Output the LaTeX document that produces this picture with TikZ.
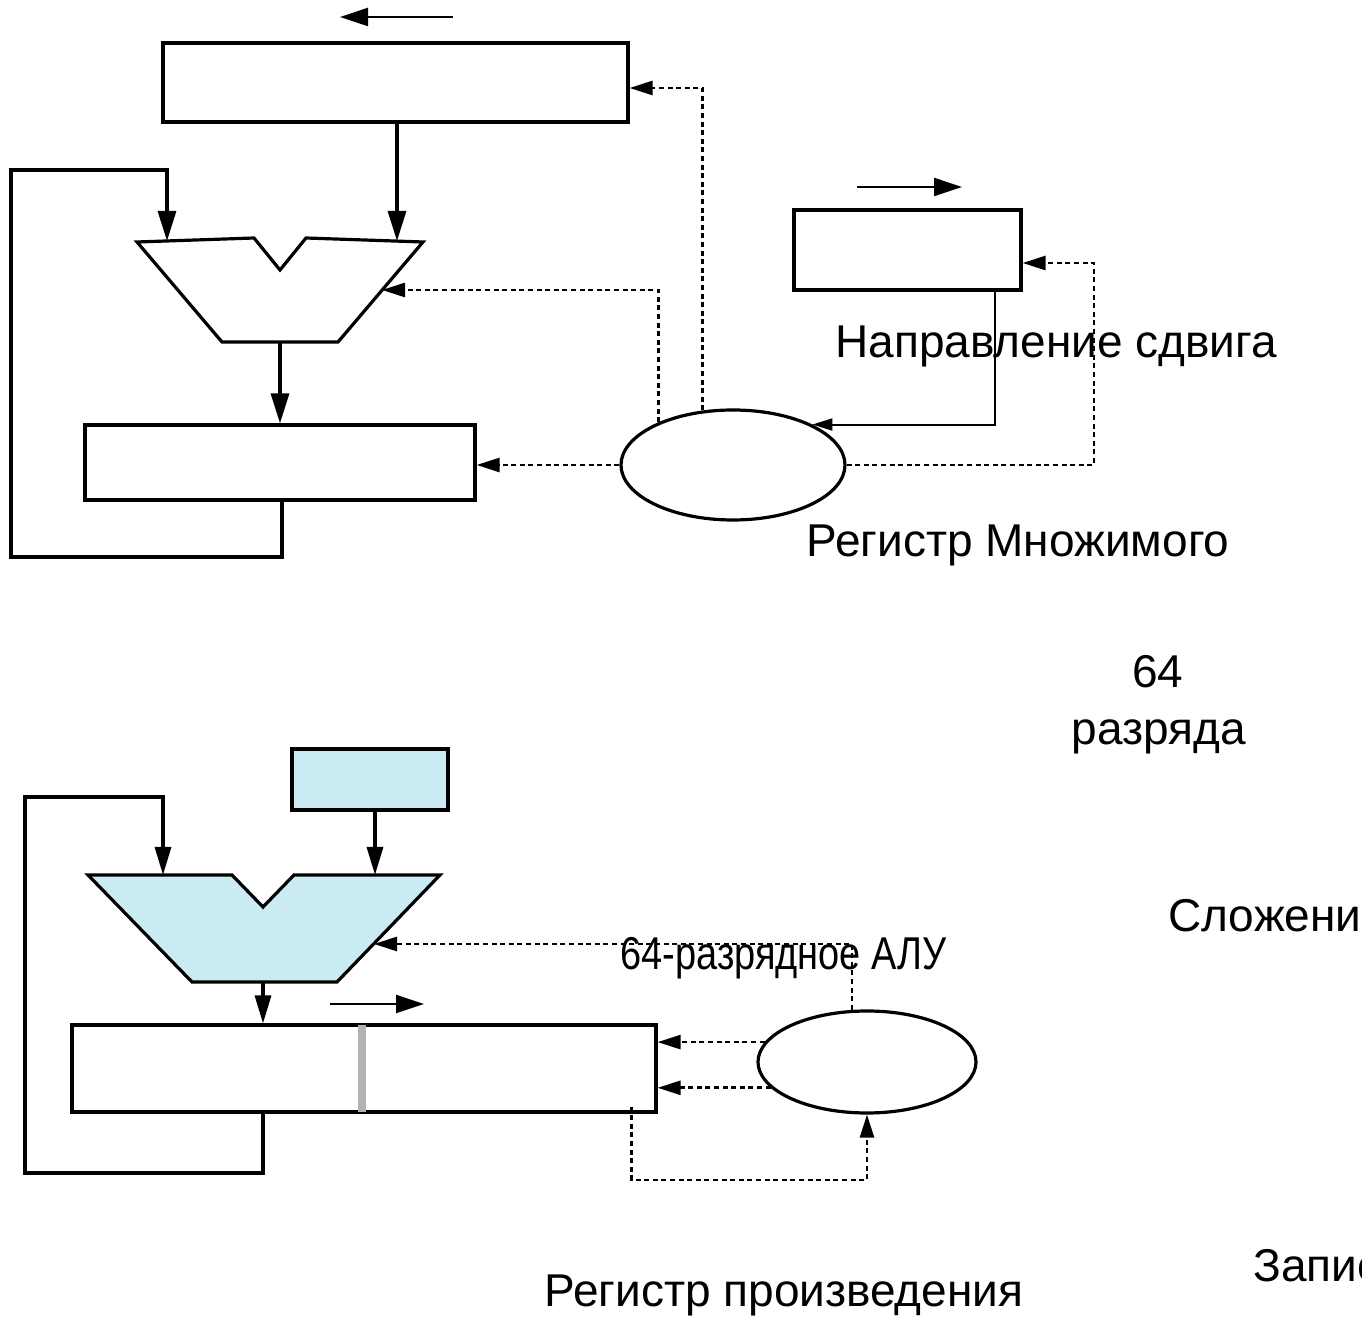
\documentclass[tikz,border=0pt]{standalone}
\usepackage{fontspec}
\setmainfont{Liberation Sans}
\usetikzlibrary{arrows.meta,shapes.geometric}
\definecolor{aluBlue}{RGB}{203,235,242}
\newcommand\lblfont{\fontsize{23pt}{27pt}\selectfont}
\begin{document}
\begin{tikzpicture}[x=0.5pt,y=-0.5pt,
  reg/.style={draw, rectangle, line width=1.6pt, inner sep=0pt},
  ctrl/.style={draw, ellipse, line width=1.6pt, inner sep=0pt},
  alu/.style={draw, line width=1.6pt, line join=miter},
  bus/.style={line width=1.6pt, -{Triangle[length=15pt,width=9pt]}},
  busb/.style={line width=1.6pt, -{Triangle[length=14pt,width=8pt]}},
  shiftarrow/.style={line width=1.2pt, -{Triangle[length=14pt,width=9pt]}},
  ctrlline/.style={line width=1.35pt, dash pattern=on 2.5pt off 1.8pt, -{Triangle[length=11.5pt,width=7pt]}},
  thinline/.style={line width=1pt, -{Triangle[length=10pt,width=6pt]}},
  lbl/.style={inner sep=0pt, font=\lblfont},
]
\useasboundingbox (0,0) rectangle (1362,1325);
\clip (0,0) rectangle (1362,1325);

% ---------- upper scheme ----------
\node[reg, minimum width=232.5pt, minimum height=39.5pt] (topMcand) at (395.5,82.5) {};
\node[reg, minimum width=195pt, minimum height=37.5pt] (topProd) at (280,462.5) {};
\node[reg, minimum width=113.5pt, minimum height=40pt] (topMplier) at (907.5,250) {};
\node[ctrl, minimum width=112pt, minimum height=55pt] (topCtrl) at (733,465) {};

% adder with notch
\draw[alu, fill=white] (137,242) -- (254,238) -- (280,270) -- (306,238) -- (423,242)
  -- (338,342) -- (222,342) -- cycle;
\coordinate (aluAinL) at (167,241);
\coordinate (aluAinR) at (397,241);
\coordinate (aluAout) at (280,342);
\coordinate (aluActl) at (382,290);

% shift directions
\coordinate (shA1) at (453,17);
\coordinate (shA0) at (340,17);
\draw[shiftarrow] (shA1) -- (shA0);
\coordinate (shB0) at (857,187);
\coordinate (shB1) at (962,187);
\draw[shiftarrow] (shB0) -- (shB1);

% data paths
\draw[bus] (topMcand.south -| aluAinR) -- (aluAinR);
\draw[bus] (aluAout) -- (aluAout |- topProd.north);
\draw[bus] (topProd.south -| 282,0) -- (282,557) -| (11,170) -| (aluAinL);

% control signals
\draw[ctrlline] (topCtrl.west) -- (topCtrl.west -| topProd.east);
\draw[ctrlline] (topCtrl.150) |- (aluActl);
\draw[ctrlline] (topCtrl.119.5) |- ([yshift=-2.75pt]topMcand.east);
\draw[ctrlline] (topCtrl.east) -| (1094,263) -- ([yshift=-6.5pt]topMplier.east);
\draw[thinline] ([xshift=-14pt]topMplier.south east) |- (topCtrl.27.5);

% ---------- lower scheme ----------
\node[reg, fill=aluBlue, minimum width=78pt, minimum height=30.5pt] (botMcand) at (370,779.5) {};
\node[reg, minimum width=292pt, minimum height=43.5pt] (botProd) at (364,1068.5) {};
\node[ctrl, minimum width=109pt, minimum height=51pt] (botCtrl) at (867,1062) {};

\draw[alu, fill=aluBlue] (88,875) -- (232,875) -- (263,907) -- (294,875) -- (440,875)
  -- (337,982) -- (192,982) -- cycle;
\coordinate (aluBinL) at (163,875);
\coordinate (aluBinR) at (375,875);
\coordinate (aluBout) at (263,982);
\coordinate (aluBctl) at (374,944);

% boundary between the halves of the product register
\draw[line width=4pt, color=black!30, shorten <=0.8pt, shorten >=0.8pt]
  (botProd.north -| 362,0) -- (botProd.south -| 362,0);

\coordinate (shC0) at (330,1004);
\coordinate (shC1) at (424,1004);
\draw[shiftarrow] (shC0) -- (shC1);

\draw[busb] (botMcand.south -| aluBinR) -- (aluBinR);
\draw[busb] (aluBout) -- (aluBout |- botProd.north);
\draw[busb] (botProd.south -| aluBout) -- (263,1173) -| (25,797) -| (aluBinL);

\draw[ctrlline] (botCtrl.169) -- (botCtrl.169 -| botProd.east);
\draw[ctrlline] (botCtrl.195) -- (botCtrl.195 -| botProd.east);
\draw[ctrlline] (botCtrl.106) |- (aluBctl);
\draw[ctrlline] ([xshift=-13pt,yshift=3.5pt]botProd.south east) |- (botCtrl.south |- 0,1180) -- (botCtrl.south);

% ---------- labels ----------
\node[lbl, anchor=base west] (tShift) at (835,358) {Направление сдвига};
\node[lbl, anchor=base west] (tMcand) at (806,557) {Регистр Множимого};
\node[lbl, anchor=base] (t64) at (1158,688) {64};
\node[lbl, anchor=base] (tBits) at (1159,745) {разряда};
\node[lbl, anchor=base west] (tAdd) at (1168,932) {Сложение};
\node[lbl, anchor=base west] (tWrite) at (1253,1282) {Запись};
\node[lbl, anchor=base west] (tProd) at (544,1307) {Регистр произведения};
\node[lbl, anchor=base west] (tAlu) at (620,970) {\scalebox{0.825}[1]{64-разрядное АЛУ}};
\end{tikzpicture}
\end{document}
